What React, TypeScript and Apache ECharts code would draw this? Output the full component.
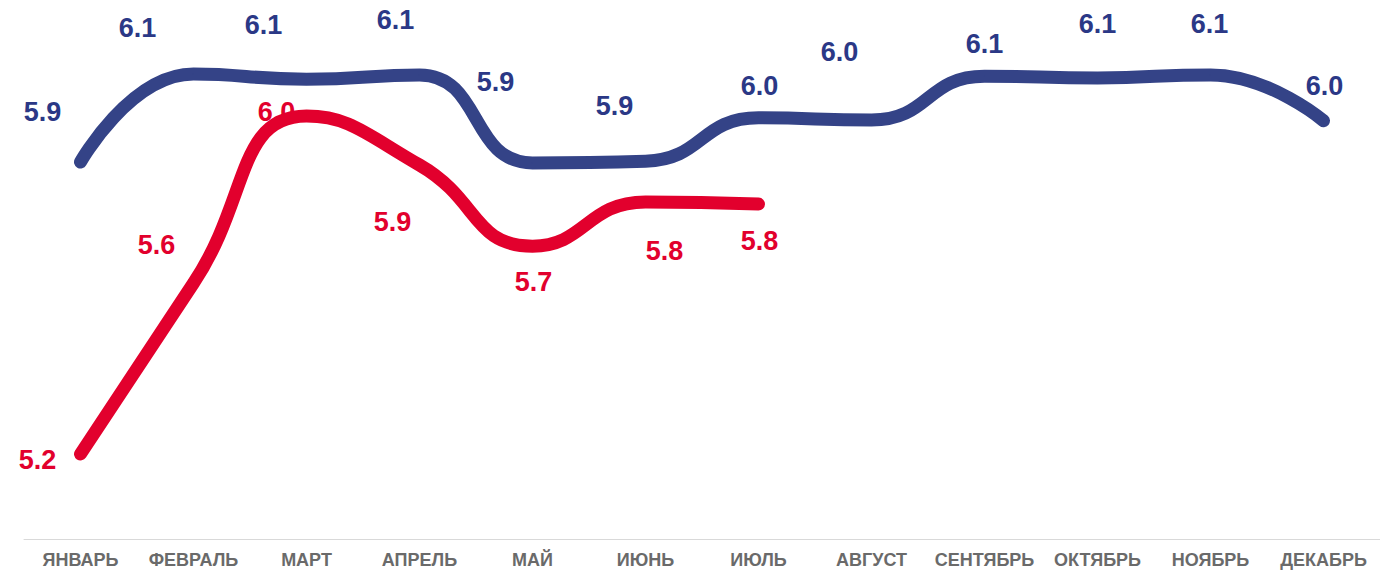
import React, { useEffect, useRef } from "react";
import * as echarts from "echarts";

const months = [
  "ЯНВАРЬ", "ФЕВРАЛЬ", "МАРТ", "АПРЕЛЬ", "МАЙ", "ИЮНЬ",
  "ИЮЛЬ", "АВГУСТ", "СЕНТЯБРЬ", "ОКТЯБРЬ", "НОЯБРЬ", "ДЕКАБРЬ",
];
const blueValues = [5.887, 6.094, 6.082, 6.092, 5.885, 5.889, 5.991, 5.986, 6.089, 6.085, 6.092, 5.984];
const redValues = [5.2, 5.602, 5.995, 5.88, 5.689, 5.793, 5.788];

// label offsets (styling, not data)
const blueLabelOffsets = [
  [-38, -50], [-56, -46], [-43, -54], [-24, -55], [-37, -81], [-31, -55],
  [1, -32], [-32, -68], [0, -32], [0, -54], [-1, -51], [1, -35],
];
const redLabelOffsets = [
  [-43, 6], [-37, -38], [-30, -4], [-27, 57], [1, 36], [19, 49], [1, 37],
];

const BLUE = "#344387";
const BLUE_TEXT = "#2B3886";
const RED = "#E2002D";

function buildData(values: number[], offsets: number[][]) {
  return values.map((v, i) => ({
    value: v,
    label: { offset: offsets[i] },
  }));
}

export default function App() {
  const ref = useRef<HTMLDivElement>(null);
  useEffect(() => {
    if (!ref.current) return;
    const chart = echarts.init(ref.current, null, { renderer: "svg" });
    const labelBase = {
      show: true,
      position: "inside",
      fontFamily: "Liberation Sans, Arial, sans-serif",
      fontWeight: "bold",
      fontSize: 27,
      formatter: (p: any) => Number(p.value).toFixed(1),
    };
    chart.setOption({
      animation: false,
      grid: { left: 24, right: 0, top: 29, bottom: 32 },
      xAxis: {
        type: "category",
        data: months,
        boundaryGap: true,
        axisLine: { show: true, lineStyle: { color: "#D9D9D9", width: 1 } },
        axisTick: { show: false },
        axisLabel: {
          color: "#6A6A6A",
          fontFamily: "Liberation Sans, Arial, sans-serif",
          fontWeight: "bold",
          fontSize: 18,
          margin: 12,
          interval: 0,
        },
        splitLine: { show: false },
      },
      yAxis: {
        type: "value",
        min: 5.0,
        max: 6.2,
        show: false,
        splitLine: { show: false },
      },
      series: [
        {
          type: "line",
          data: buildData(blueValues, blueLabelOffsets),
          smooth: 0.5,
          symbol: "circle",
          symbolSize: 1,
          showSymbol: true,
          itemStyle: { color: BLUE },
          lineStyle: { color: BLUE, width: 13, cap: "round", join: "round" },
          label: { ...labelBase, color: BLUE_TEXT },
          emphasis: { disabled: true },
          z: 2,
        },
        {
          type: "line",
          data: buildData(redValues, redLabelOffsets),
          smooth: 0.5,
          symbol: "circle",
          symbolSize: 1,
          showSymbol: true,
          itemStyle: { color: RED },
          lineStyle: { color: RED, width: 13, cap: "round", join: "round" },
          label: { ...labelBase, color: RED },
          emphasis: { disabled: true },
          z: 3,
        },
      ],
    });
    return () => chart.dispose();
  }, []);
  return (
    <div
      ref={ref}
      style={{ position: "absolute", left: 0, top: 0, width: 1380, height: 571, background: "#fff" }}
    />
  );
}
